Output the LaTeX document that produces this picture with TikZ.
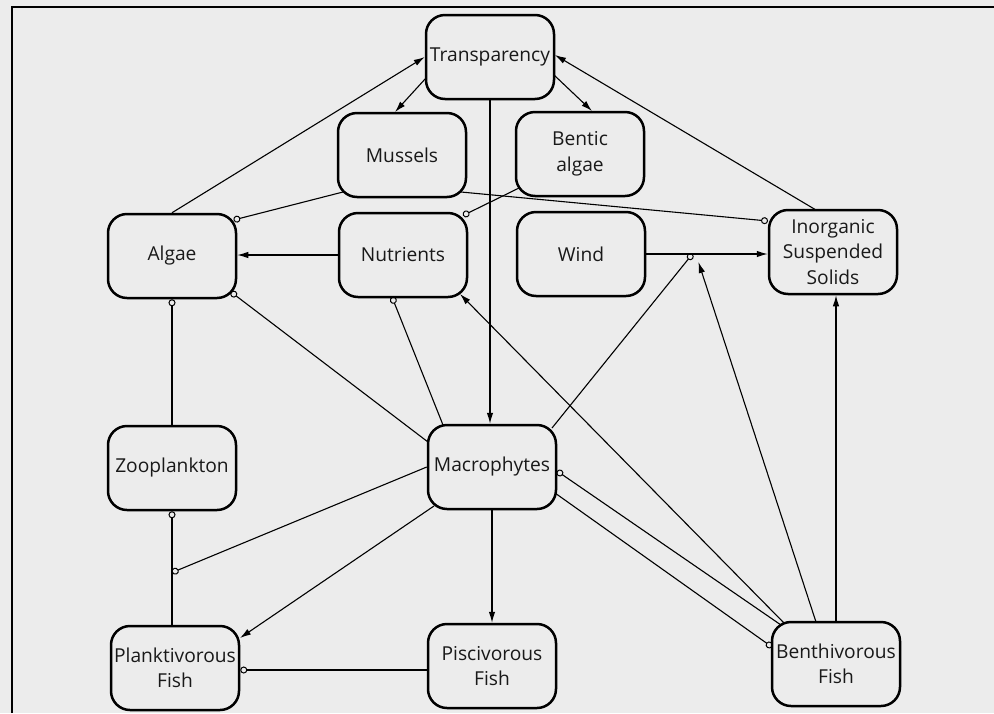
\documentclass[tikz,border=0pt]{standalone}
\usepackage{fontspec}
\setmainfont{Open Sans}
\usetikzlibrary{arrows.meta,calc}
\definecolor{paper}{RGB}{236,236,236}
\definecolor{ink}{RGB}{25,25,25}
\begin{document}
\begin{tikzpicture}[x=1pt,y=-1pt,
  box/.style={draw=black, line width=2.5pt, rounded corners=19pt, minimum width=128pt, minimum height=84pt, align=center, text=ink, font=\fontsize{19.2}{25.5}\selectfont, inner sep=1pt},
  link/.style={draw=black, line width=1.1pt},
  posarrow/.style={link, -{Latex[length=11pt,width=6.5pt]}},
  negarrow/.style={link, -{Circle[open,length=7pt,width=7pt,line width=1pt]}}
]
\useasboundingbox (0,0) rectangle (994,713);
\fill[paper] (0,0) rectangle (994,713);
\draw[line width=2pt] (12,713) -- (12,7) -- (994,7);

\node[box] (tr)   at (490,57)  {Transparency};
\node[box] (mus)  at (402,155) {Mussels};
\node[box] (ben)  at (580,154) {Bentic\\algae};
\node[box] (alg)  at (172,256) {Algae};
\node[box] (nut)  at (403,255) {Nutrients};
\node[box] (wind) at (581,254) {Wind};
\node[box] (iss)  at (833,252) {Inorganic\\Suspended\\Solids};
\node[box] (zoo)  at (172,468) {Zooplankton};
\node[box] (mac)  at (492,467) {Macrophytes};
\node[box] (pla)  at (175,668) {Planktivorous\\Fish};
\node[box] (pis)  at (492,666) {Piscivorous\\Fish};
\node[box] (bth)  at (836,664) {Benthivorous\\Fish};

\draw[posarrow] (alg.north) -- (tr.west);
\draw[posarrow] ($(tr.center)+(-64,21)$) -- ($(mus.center)+(-7,-43)$);
\draw[posarrow] ($(tr.center)+(64,18)$) -- ($(ben.center)+(12,-43)$);
\draw[posarrow] ($(iss.center)+(-17,-42)$) -- ($(tr.center)+(65,-2)$);
\draw[posarrow] (tr.south) -- (tr.south |- mac.north);
\draw[negarrow] ($(mus.center)+(-59,37)$) -- ($(alg.center)+(61.5,-36)$);
\draw[negarrow] ($(mus.center)+(59,37)$) -- ($(iss.center)+(-65,-31)$);
\draw[negarrow] ($(ben.center)+(-61,34)$) -- ($(nut.center)+(60,-39.5)$);
\draw[posarrow] (nut.west) -- (nut.west -| alg.east);
\draw[posarrow] (wind.east) -- (wind.east -| iss.west);
\coordinate (wx) at ($(wind.east)!0.38!(wind.east -| iss.west)$);
\draw[negarrow] ($(mac.center)+(60,-39)$) -- (wx);
\draw[posarrow] ($(bth.center)+(-20,-42)$) -- ($(wx)+(6,8)$);
\draw[posarrow] ($(bth.center)+(-52,-41)$) -- ($(nut.center)+(57,39)$);
\draw[negarrow] ($(bth.center)+(-55,-39)$) -- ($(mac.center)+(65,4)$);
\draw[negarrow] ($(mac.center)+(63,26)$) -- ($(bth.center)+(-64,-17)$);
\draw[negarrow] ($(mac.center)+(-49,-42)$) -- ($(nut.center)+(-11,42)$);
\draw[negarrow] ($(mac.center)+(-64,-25)$) -- ($(alg.center)+(59,36)$);
\draw[negarrow] (zoo.north) -- (zoo.north |- alg.south);
\draw[negarrow] (zoo.south |- pla.north) -- (zoo.south);
\coordinate (zx) at ($(zoo.south)!0.54!(zoo.south |- pla.north)$);
\draw[negarrow] (mac.west) -- (zx);
\draw[posarrow] ($(mac.center)+(-58,39)$) -- ($(pla.center)+(65,-30)$);
\draw[negarrow] ($(pis.west)+(0,4)$) -- ($(pis.west -| pla.east)+(0,4)$);
\draw[posarrow] (mac.south) -- (mac.south |- pis.north);
\draw[posarrow] (bth.north) -- (bth.north |- iss.south);
\end{tikzpicture}
\end{document}
